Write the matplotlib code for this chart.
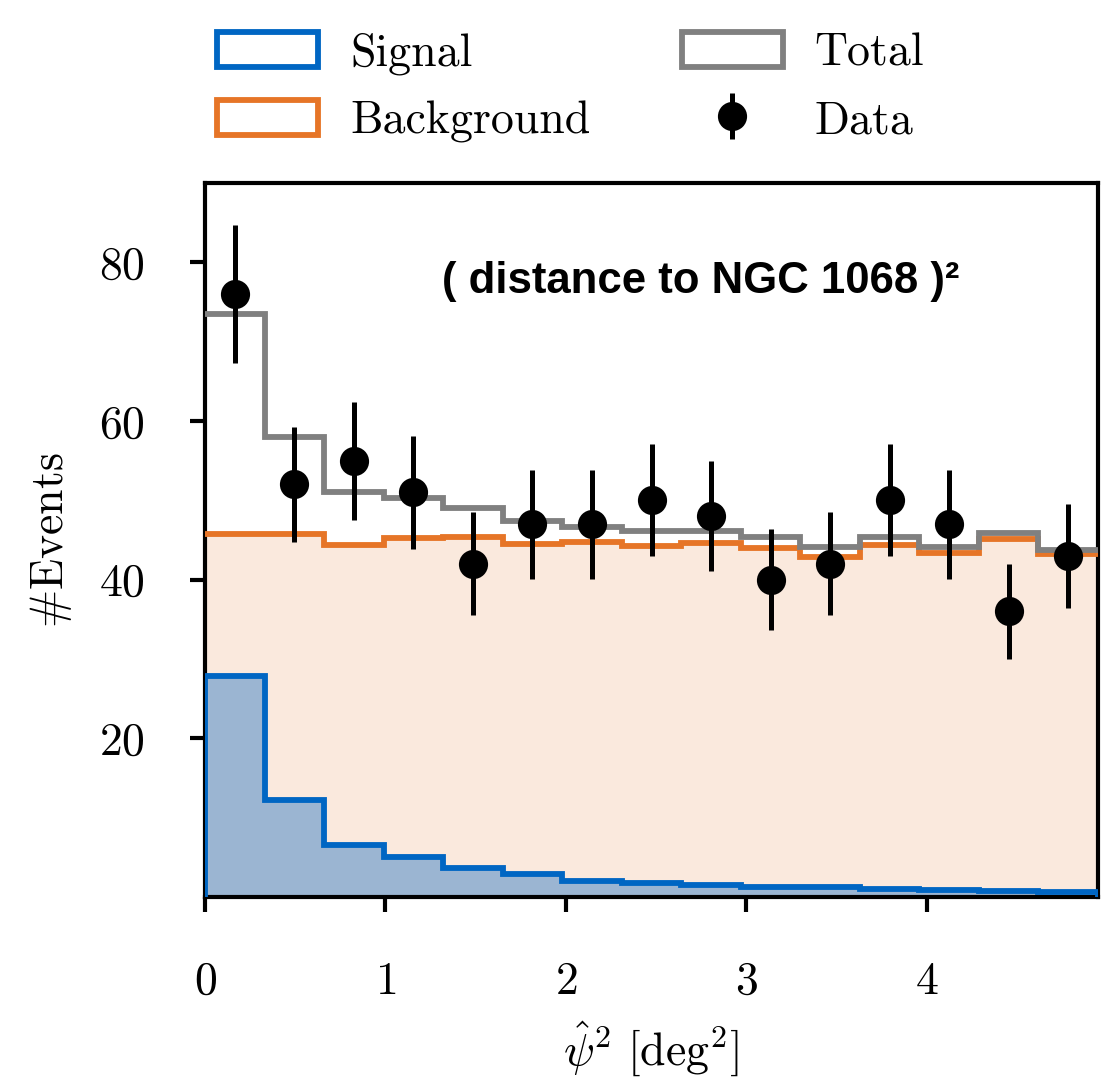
import numpy as np
import matplotlib
matplotlib.use("Agg")
import matplotlib.pyplot as plt
from matplotlib.patches import Patch

plt.rcParams.update({
    "font.family": "serif",
    "font.serif": ["cmr10"],
    "mathtext.fontset": "cm",
    "axes.formatter.use_mathtext": True,
    "font.size": 11,
    "axes.linewidth": 1.0,
    "xtick.major.width": 1.0,
    "ytick.major.width": 1.0,
    "xtick.major.size": 3.5,
    "ytick.major.size": 3.5,
})

# Binning in psi^2 [deg^2]
bin_edges = np.round(np.arange(16) * 0.33, 2)

# Expected signal and background counts per bin
signal = [27.8, 12.2, 6.6, 5.1, 3.6, 2.85, 2.0, 1.8, 1.5, 1.3, 1.2, 1.0, 0.85, 0.8, 0.6]
background = [45.7, 45.8, 44.4, 45.2, 45.4, 44.5, 44.7, 44.3, 44.6, 44.05, 42.9, 44.4, 43.3, 45.1, 43.2]

# Observed counts per bin
data_counts = [76, 52, 55, 51, 42, 47, 47, 50, 48, 40, 42, 50, 47, 36, 43]

yticks = [20, 40, 60, 80]
xticks = [0, 1, 2, 3, 4]

c_sig = "#0066c3"
c_bkg = "#e67527"
c_tot = "#808080"
f_sig = "#9bb5d2"
f_bkg = "#fae9dd"

signal = np.array(signal)
background = np.array(background)
total = signal + background
data_counts = np.array(data_counts)
centers = 0.5 * (bin_edges[:-1] + bin_edges[1:])

fig = plt.figure(figsize=(1102 / 300, 1080 / 300), dpi=300)
ax = fig.add_axes([205 / 1102, 1 - 897 / 1080, (1098 - 205) / 1102, (897 - 183) / 1080])

ax.stairs(background, bin_edges, fill=True, color=f_bkg, zorder=1)
ax.stairs(signal, bin_edges, fill=True, color=f_sig, zorder=2)
ax.stairs(background, bin_edges, color=c_bkg, lw=1.4, baseline=None, zorder=3)
ax.stairs(signal, bin_edges, color=c_sig, lw=1.4, zorder=4)
ax.stairs(total, bin_edges, color=c_tot, lw=1.4, baseline=None, zorder=5)
eb = ax.errorbar(centers, data_counts, yerr=np.sqrt(data_counts), fmt="o", color="black",
                 ms=6, elinewidth=1.2, capsize=0, zorder=6)

ax.set_xlim(0, bin_edges[-1])
ax.set_ylim(0, 90)
ax.set_xticks(xticks)
ax.set_yticks(yticks)
ax.tick_params(axis="x", pad=12)
ax.tick_params(axis="y", pad=11)

ax.set_xlabel(r"$\hat{\psi}^2\ [\mathrm{deg}^2]$", fontsize=11, labelpad=4)
ax.set_ylabel(r"$\#\mathrm{Events}$", fontsize=11, labelpad=6)

ax.text(2.75, 77.6, "( distance to NGC 1068 )²", ha="center", va="center",
        fontsize=10.5, fontweight="bold", family="Liberation Sans", zorder=7)

handles = [
    Patch(facecolor="white", edgecolor=c_sig, lw=1.4),
    Patch(facecolor="white", edgecolor=c_bkg, lw=1.4),
    Patch(facecolor="white", edgecolor=c_tot, lw=1.4),
    eb,
]
labels = ["Signal", "Background", "Total", "Data"]
fig.legend(handles, labels, ncol=2, loc="upper left", bbox_to_anchor=(217 / 1102, 1 - 32 / 1080),
           frameon=False, borderpad=0, borderaxespad=0, handlelength=2.2, handleheight=0.8,
           handletextpad=0.7, columnspacing=2.0, labelspacing=0.55, fontsize=11)

fig.savefig("out.png", dpi=300)
